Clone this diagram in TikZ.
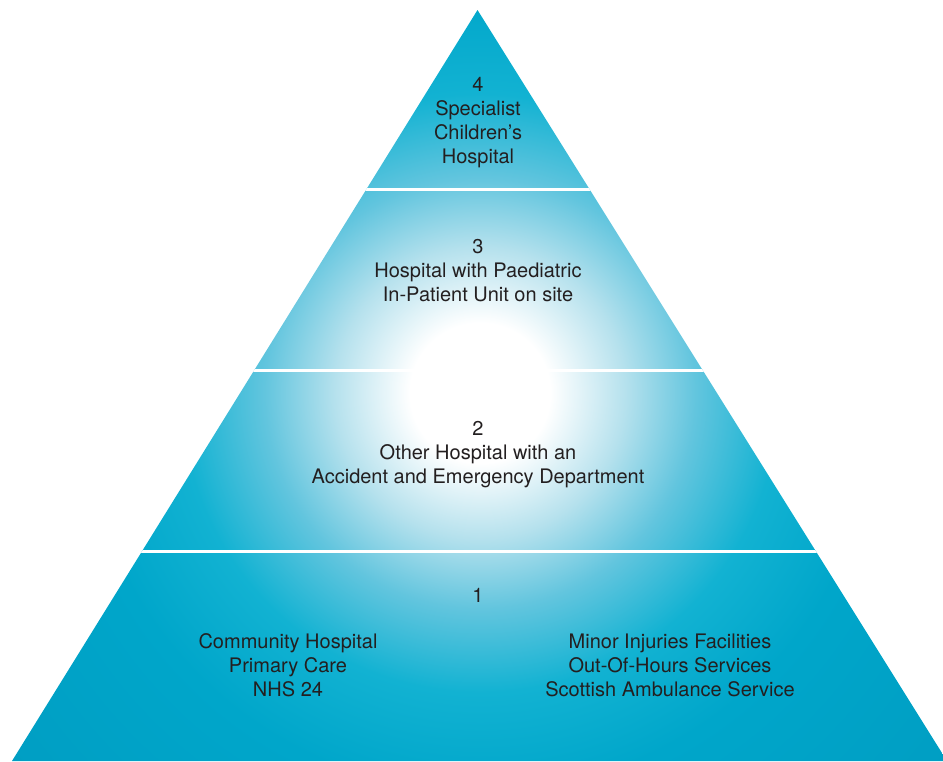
\documentclass[tikz,border=0pt]{standalone}
\usepackage{fontspec}
\setmainfont{TeX Gyre Heros}
\definecolor{txt}{HTML}{231F20}
\definecolor{cA}{HTML}{B5E1ED}
\definecolor{cB}{HTML}{62C5DE}
\definecolor{cC}{HTML}{12B2D2}
\definecolor{cD}{HTML}{00A6CA}
\definecolor{cE}{HTML}{009EC3}
\pgfdeclareradialshading{pyrshade}{\pgfpoint{0bp}{0bp}}{color(0bp)=(white); color(2.5bp)=(white); color(5.2bp)=(cA); color(7.7bp)=(cB); color(10.7bp)=(cC); color(14.3bp)=(cD); color(21.4bp)=(cE); color(25bp)=(cE); color(50bp)=(cE)}
\begin{document}
\begin{tikzpicture}[x=1pt,y=-1pt,
  lbl/.style={text=txt, font=\fontsize{20}{24}\selectfont, anchor=base, inner sep=0pt},
  divider/.style={white, line width=3pt}]
\useasboundingbox (0,0) rectangle (943,761);
\coordinate (apex) at (477.5,10);
\coordinate (bl) at (12,761);
\coordinate (br) at (947,761);
\begin{scope}
  \clip (apex) -- (br) -- (bl) -- cycle;
  \shade[shading=pyrshade] (480,393) circle (700);
  \coordinate (d1l) at (0,189.5); \coordinate (d1r) at (950,189.5);
  \coordinate (d2l) at (0,370.5); \coordinate (d2r) at (950,370.5);
  \coordinate (d3l) at (0,551.5); \coordinate (d3r) at (950,551.5);
  \draw[divider] (d1l) -- (d1r);
  \draw[divider] (d2l) -- (d2r);
  \draw[divider] (d3l) -- (d3r);
\end{scope}
% tier 4
\node[lbl] (t4a) at (478,91) {4};
\node[lbl] (t4b) at (478,115) {Specialist};
\node[lbl] (t4c) at (478,139) {Children’s};
\node[lbl] (t4d) at (478,163) {Hospital};
% tier 3
\node[lbl] (t3a) at (478,253) {3};
\node[lbl] (t3b) at (478,277) {Hospital with Paediatric};
\node[lbl] (t3c) at (478,301) {In-Patient Unit on site};
% tier 2
\node[lbl] (t2a) at (478,435) {2};
\node[lbl] (t2b) at (478,459) {Other Hospital with an};
\node[lbl] (t2c) at (478,483) {Accident and Emergency Department};
% tier 1
\node[lbl] (t1a) at (478,602) {1};
\node[lbl] (t1l1) at (288,648) {Community Hospital};
\node[lbl] (t1l2) at (288,672) {Primary Care};
\node[lbl] (t1l3) at (288,696) {NHS 24};
\node[lbl] (t1r1) at (670,648) {Minor Injuries Facilities};
\node[lbl] (t1r2) at (670,672) {Out-Of-Hours Services};
\node[lbl] (t1r3) at (670,696) {Scottish Ambulance Service};
\end{tikzpicture}
\end{document}
